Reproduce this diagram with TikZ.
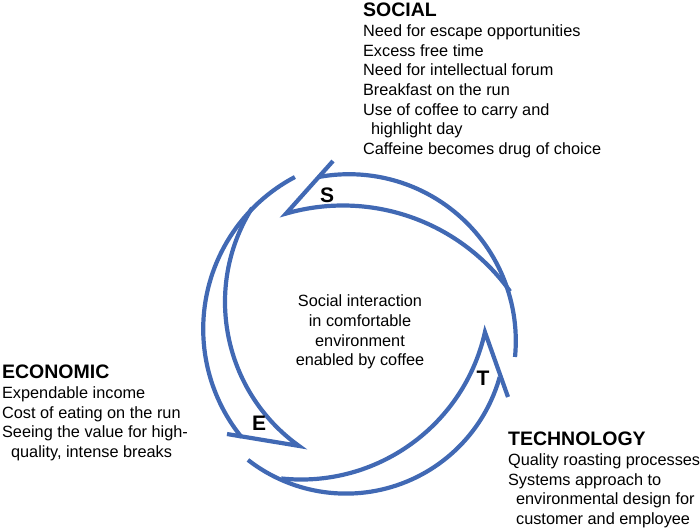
\documentclass[tikz,border=0pt]{standalone}
\usepackage{fontspec}
\setmainfont{Liberation Sans}
\definecolor{cycleblue}{RGB}{65,105,180}
\begin{document}
\begin{tikzpicture}[x=1pt, y=-1pt, line width=4.2pt, line join=miter,
    font=\fontsize{16.3}{19.7}\selectfont,
    arc/.style={draw=cycleblue},
    letter/.style={font=\fontsize{21}{21}\selectfont\bfseries, inner sep=0pt},
    block/.style={align=left, inner sep=0pt, anchor=north west}]
  \useasboundingbox (0,0) rectangle (700,528);

  % S arrow
  \coordinate (S0) at ([shift={(349,341)}]5.5:166.8);
  \coordinate (S1) at ([shift={(343,411)}]-35.6:205.5);
  \coordinate (S3) at (333,161);
  \draw[arc] (S0) arc[start angle=5.5, end angle=-100.4, radius=166.8];
  \draw[arc] (S1) arc[start angle=-35.6, end angle=-106.1, radius=205.5] -- (S3);

  % T arrow
  \coordinate (T0) at ([shift={(346,334)}]127.9:159.6);
  \coordinate (T1) at ([shift={(301,291)}]96:188.5);
  \coordinate (T3) at (508,397);
  \draw[arc] (T0) arc[start angle=127.9, end angle=15.6, radius=159.6];
  \draw[arc] (T1) arc[start angle=96, end angle=12.6, radius=188.5] -- (T3);

  % E arrow
  \coordinate (E0) at ([shift={(375,329)}]242.2:171.8);
  \coordinate (E1) at ([shift={(402,302)}]212.1:177);
  \coordinate (E3) at (227,434);
  \draw[arc] (E0) arc[start angle=242.2, end angle=140.9, radius=171.8];
  \draw[arc] (E1) arc[start angle=212.1, end angle=125.6, radius=177] -- (E3);

  \foreach \ten/\x/\y in {S/327/195, T/483/378, E/259/423}
    \node[letter] (\ten) at (\x,\y) {\ten};

  \node[align=center] (centre) at (360,332)
    {Social interaction\\in comfortable\\environment\\enabled by coffee};

  \node[block] (social) at (361,1)
    {{\bfseries\fontsize{19.5}{19.7}\selectfont SOCIAL}\\
     Need for escape opportunities\\
     Excess free time\\
     Need for intellectual forum\\
     Breakfast on the run\\
     Use of coffee to carry and\\
     \hspace*{8pt}highlight day\\
     Caffeine becomes drug of choice};

  \node[block] (economic) at (0,363)
    {{\bfseries\fontsize{19.5}{19.7}\selectfont ECONOMIC}\\
     Expendable income\\
     Cost of eating on the run\\
     Seeing the value for high-\\
     \hspace*{9pt}quality, intense breaks};

  \node[block] (technology) at (506,430)
    {{\bfseries\fontsize{19.5}{19.7}\selectfont TECHNOLOGY}\\
     Quality roasting processes\\
     Systems approach to\\
     \hspace*{8pt}environmental design for\\
     \hspace*{8pt}customer and employee};
\end{tikzpicture}
\end{document}
